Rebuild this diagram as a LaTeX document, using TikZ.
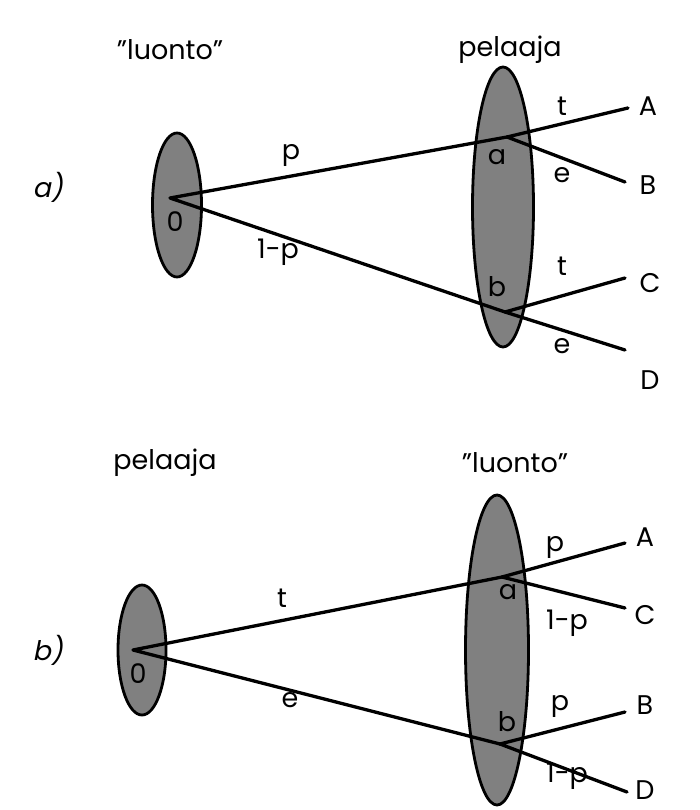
\documentclass[tikz,border=0pt]{standalone}
\usepackage{fontspec}
\setmainfont{Poppins}
\newfontfamily\slantfont[FakeSlant=0.2]{Poppins}
\usetikzlibrary{shapes.geometric}
\definecolor{setGray}{RGB}{128,128,128}

\begin{document}
\begin{tikzpicture}[x=1pt, y=-1pt, font=\fontsize{27}{30}\selectfont,
    SET/.style={draw, ellipse, line width=2.8pt, fill=setGray, inner sep=0pt},
    BR/.style={line width=3.3pt, line cap=round, line join=round},
    LBL/.style={inner sep=0pt}]
    \useasboundingbox (0,0) rectangle (699,810);
    % a) luonto first, then pelaaja
    \node[LBL] (capa) at (48,187) {\slantfont a)};
    \node[LBL] (luontoA) at (170,50) {"luonto"};
    \node[LBL] (pelaajaA) at (510,50) {pelaaja};
    \node[SET, minimum width=49pt, minimum height=144pt] (setA0) at (177,205) {};
    \node[SET, minimum width=61pt, minimum height=280pt] (setA1) at (503,207) {};
    \coordinate (vA0) at (170,198);
    \coordinate (vAa) at (507,137);
    \coordinate (vAb) at (505,312);
    \coordinate (endAA) at (628,108);
    \coordinate (endAB) at (625,182);
    \coordinate (endAC) at (625,278);
    \coordinate (endAD) at (625,350);
    \draw[BR] (vAa) -- (vA0) -- (vAb);
    \draw[BR] (endAA) -- (vAa) -- (endAB);
    \draw[BR] (endAC) -- (vAb) -- (endAD);
    \node[LBL] (zA) at (175,222) {0};
    \node[LBL] (aA) at (497,157) {a};
    \node[LBL] (bA) at (497,287) {b};
    \node[LBL] (pA) at (291,155) {p};
    \node[LBL] (qA) at (278,252) {1-p};
    \node[LBL] (tA1) at (562,106) {t};
    \node[LBL] (eA1) at (562,175) {e};
    \node[LBL] (tA2) at (562,266) {t};
    \node[LBL] (eA2) at (562,346) {e};
    \node[LBL] (outAA) at (648,106) {A};
    \node[LBL] (outAB) at (648,185) {B};
    \node[LBL] (outAC) at (650,283) {C};
    \node[LBL] (outAD) at (650,380) {D};
    % b) pelaaja first, then luonto
    \node[LBL] (capb) at (48,650) {\slantfont b)};
    \node[LBL] (pelaajaB) at (165,463) {pelaaja};
    \node[LBL] (luontoB) at (515,463) {"luonto"};
    \node[SET, minimum width=48pt, minimum height=130pt] (setB0) at (142,650) {};
    \node[SET, minimum width=63pt, minimum height=310pt] (setB1) at (497,650) {};
    \coordinate (vB0) at (133,650);
    \coordinate (vBa) at (502,577);
    \coordinate (vBb) at (500,744);
    \coordinate (endBA) at (625,543);
    \coordinate (endBC) at (625,608);
    \coordinate (endBB) at (625,712);
    \coordinate (endBD) at (627,792);
    \draw[BR] (vBa) -- (vB0) -- (vBb);
    \draw[BR] (endBA) -- (vBa) -- (endBC);
    \draw[BR] (endBB) -- (vBb) -- (endBD);
    \node[LBL] (zB) at (138,674) {0};
    \node[LBL] (aB) at (508,592) {a};
    \node[LBL] (bB) at (507,722) {b};
    \node[LBL] (tB) at (282,598) {t};
    \node[LBL] (eB) at (290,700) {e};
    \node[LBL] (pB1) at (555,547) {p};
    \node[LBL] (qB1) at (567,623) {1-p};
    \node[LBL] (pB2) at (560,706) {p};
    \node[LBL] (qB2) at (567,776) {1-p};
    \node[LBL] (outBA) at (645,537) {A};
    \node[LBL] (outBC) at (645,615) {C};
    \node[LBL] (outBB) at (645,705) {B};
    \node[LBL] (outBD) at (645,790) {D};
\end{tikzpicture}
\end{document}
